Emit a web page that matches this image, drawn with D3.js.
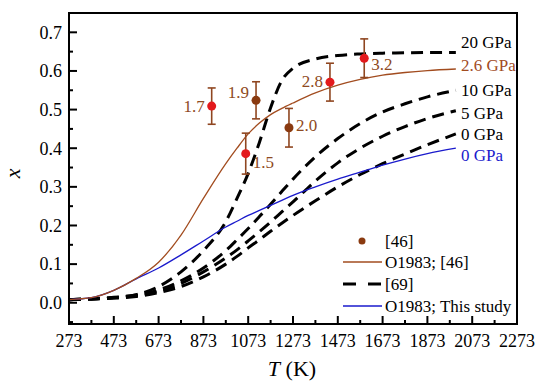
<!DOCTYPE html>
<html>
<head>
<meta charset="utf-8">
<script src="https://cdn.jsdelivr.net/npm/d3@7"></script>
<style>
  body { margin: 0; background: #fff; }
  svg text { font-family: "Liberation Serif", "Times New Roman", serif; }
</style>
</head>
<body>
<div id="chart"></div>
<script>
// temperature grid (K) shared by all curves
var tempGrid = [273, 373, 473, 573, 673, 773, 873, 973, 1023, 1073, 1123, 1173, 1223, 1273, 1373, 1473, 1573, 1673, 1773, 1873, 2000];

// O1983 model curves
var o1983Ref46 = [0.008, 0.013, 0.032, 0.063, 0.105, 0.175, 0.27, 0.36, 0.4, 0.437, 0.465, 0.487, 0.503, 0.517, 0.543, 0.563, 0.578, 0.589, 0.596, 0.601, 0.605];
var o1983ThisStudy = [0.008, 0.013, 0.032, 0.062, 0.09, 0.124, 0.16, 0.196, 0.211, 0.226, 0.239, 0.252, 0.265, 0.278, 0.3, 0.32, 0.338, 0.356, 0.372, 0.386, 0.40];

// [69] dashed curves
var ref69_20GPa = [0.008, 0.01, 0.013, 0.021, 0.042, 0.08, 0.135, 0.21, 0.27, 0.335, 0.415, 0.505, 0.575, 0.607, 0.631, 0.64, 0.644, 0.646, 0.647, 0.648, 0.648];
var ref69_10GPa = [0.008, 0.01, 0.014, 0.02, 0.033, 0.057, 0.09, 0.135, 0.163, 0.192, 0.223, 0.255, 0.288, 0.32, 0.378, 0.425, 0.464, 0.494, 0.515, 0.533, 0.55];
var ref69_5GPa = [0.008, 0.01, 0.013, 0.018, 0.03, 0.05, 0.08, 0.116, 0.137, 0.16, 0.184, 0.209, 0.235, 0.261, 0.315, 0.362, 0.4, 0.431, 0.456, 0.477, 0.497];
var ref69_0GPa = [0.008, 0.01, 0.012, 0.016, 0.026, 0.042, 0.067, 0.1, 0.12, 0.142, 0.163, 0.185, 0.206, 0.226, 0.264, 0.3, 0.332, 0.36, 0.385, 0.409, 0.437];

// [46] measured points with pressure labels (GPa)
var pointT = [910, 1062, 1108, 1255, 1438, 1591];
var pointX = [0.509, 0.386, 0.524, 0.453, 0.571, 0.633];
var pointErr = [0.047, 0.053, 0.048, 0.05, 0.049, 0.05];
var pointP = ["1.7", "1.5", "1.9", "2.0", "2.8", "3.2"];
var pointGroup = ["red", "red", "brown", "brown", "red", "red"];

// axis ticks
var xTicks = [273, 473, 673, 873, 1073, 1273, 1473, 1673, 1873, 2073, 2273];
var yTicks = [0.0, 0.1, 0.2, 0.3, 0.4, 0.5, 0.6, 0.7];

// curve end labels
var endLabels = ["20 GPa", "2.6 GPa", "10 GPa", "5 GPa", "0 GPa", "0 GPa"];
var endLabelX = [0.674, 0.614, 0.551, 0.492, 0.437, 0.382];

//---------------------------------------------------------------------------
var W = 550, H = 390;
var mLeft = 69, mRight = 517, mTop = 13, mBottom = 324;

var brown = "#a24c1f", blue = "#1a1acc";
var colors = { red: "#e3191c", brown: "#8a3a10" };
var labelColor = "#8e4a22";

var svg = d3.select("#chart").append("svg")
    .attr("width", W).attr("height", H);

var x = d3.scaleLinear().domain([273, 2273]).range([mLeft, mRight]);
var y = d3.scaleLinear().domain([-0.055, 0.75]).range([mBottom, mTop]);

var line = d3.line()
    .x(function(d) { return x(d[0]); })
    .y(function(d) { return y(d[1]); })
    .curve(d3.curveMonotoneX);

function pairs(vals) {
    return tempGrid.map(function(t, i) { return [t, vals[i]]; });
}

// dashed [69] curves
[ref69_20GPa, ref69_10GPa, ref69_5GPa, ref69_0GPa].forEach(function(s) {
    svg.append("path")
        .attr("d", line(pairs(s)))
        .attr("fill", "none")
        .attr("stroke", "#000")
        .attr("stroke-width", 3)
        .attr("stroke-dasharray", "12,7");
});

svg.append("path")
    .attr("d", line(pairs(o1983ThisStudy)))
    .attr("fill", "none").attr("stroke", blue).attr("stroke-width", 1.3);

svg.append("path")
    .attr("d", line(pairs(o1983Ref46)))
    .attr("fill", "none").attr("stroke", brown).attr("stroke-width", 1.3);

// error bars + points
var pts = svg.append("g");
pointT.forEach(function(t, i) {
    var cx = x(t), lo = y(pointX[i] - pointErr[i]), hi = y(pointX[i] + pointErr[i]);
    var eb = "#8f4620";
    pts.append("line").attr("x1", cx).attr("x2", cx).attr("y1", lo).attr("y2", hi)
        .attr("stroke", eb).attr("stroke-width", 1.6);
    [lo, hi].forEach(function(yy) {
        pts.append("line").attr("x1", cx - 4).attr("x2", cx + 4).attr("y1", yy).attr("y2", yy)
            .attr("stroke", eb).attr("stroke-width", 1.6);
    });
    pts.append("circle").attr("cx", cx).attr("cy", y(pointX[i])).attr("r", 4.5)
        .attr("fill", colors[pointGroup[i]]);
});

// pressure labels next to points: side (-1 left, 1 right) and vertical nudge
var labelLayout = [[-1, 0], [1, 8], [-1, -8], [1, -3], [-1, -1], [1, 6]];
pointT.forEach(function(t, i) {
    var side = labelLayout[i][0];
    svg.append("text")
        .attr("x", x(t) + side * 7)
        .attr("y", y(pointX[i]) + labelLayout[i][1])
        .attr("dy", "0.35em")
        .attr("text-anchor", side < 0 ? "end" : "start")
        .attr("font-size", 17)
        .attr("fill", labelColor)
        .text(pointP[i]);
});

// end labels
var endColors = ["#000", brown, "#000", "#000", "#000", blue];
endLabels.forEach(function(s, i) {
    svg.append("text")
        .attr("x", 461)
        .attr("y", y(endLabelX[i]))
        .attr("dy", "0.35em")
        .attr("font-size", 17)
        .attr("fill", endColors[i])
        .text(s);
});

// frame
svg.append("rect")
    .attr("x", mLeft).attr("y", mTop)
    .attr("width", mRight - mLeft).attr("height", mBottom - mTop)
    .attr("fill", "none").attr("stroke", "#000").attr("stroke-width", 2);

// ticks (inward)
var ax = svg.append("g").attr("stroke", "#000").attr("stroke-width", 2);
d3.range(273, 2274, 100).forEach(function(t) {
    var major = (t - 273) % 200 === 0;
    ax.append("line").attr("x1", x(t)).attr("x2", x(t))
        .attr("y1", mBottom).attr("y2", mBottom - (major ? 8 : 4));
});
d3.range(-0.05, 0.751, 0.05).forEach(function(v) {
    var major = Math.abs(Math.round(v * 10) - v * 10) < 1e-6;
    ax.append("line").attr("x1", mLeft).attr("x2", mLeft + (major ? 8 : 4))
        .attr("y1", y(v)).attr("y2", y(v));
});

svg.selectAll(".xt").data(xTicks).enter().append("text")
    .attr("x", function(d) { return x(d); })
    .attr("y", mBottom + 23)
    .attr("text-anchor", "middle")
    .attr("font-size", 18)
    .text(function(d) { return d; });

svg.selectAll(".yt").data(yTicks).enter().append("text")
    .attr("x", mLeft - 7)
    .attr("y", function(d) { return y(d); })
    .attr("dy", "0.35em")
    .attr("text-anchor", "end")
    .attr("font-size", 18)
    .text(function(d) { return d.toFixed(1); });

// axis titles
var xt = svg.append("text")
    .attr("x", (mLeft + mRight) / 2 - 1)
    .attr("y", 376)
    .attr("text-anchor", "middle")
    .attr("font-size", 22);
xt.append("tspan").attr("font-style", "italic").text("T");
xt.append("tspan").text(" (K)");

svg.append("text")
    .attr("transform", "translate(20," + y(0.335) + ") rotate(-90)")
    .attr("text-anchor", "middle")
    .attr("font-size", 22)
    .attr("font-style", "italic")
    .text("x");

// legend
var lg = svg.append("g");
var lx0 = 343, lx1 = 382, tx = 385;
lg.append("circle").attr("cx", 362).attr("cy", 241).attr("r", 3.5).attr("fill", colors.brown);
lg.append("line").attr("x1", lx0).attr("x2", lx1).attr("y1", 262).attr("y2", 262)
    .attr("stroke", brown).attr("stroke-width", 1.3);
lg.append("line").attr("x1", lx0).attr("x2", lx1).attr("y1", 284).attr("y2", 284)
    .attr("stroke", "#000").attr("stroke-width", 3).attr("stroke-dasharray", "13,12");
lg.append("line").attr("x1", lx0).attr("x2", lx1).attr("y1", 306).attr("y2", 306)
    .attr("stroke", blue).attr("stroke-width", 1.3);
["[46]", "O1983; [46]", "[69]", "O1983; This study"].forEach(function(s, i) {
    lg.append("text")
        .attr("x", tx)
        .attr("y", [241, 262, 284, 306][i])
        .attr("dy", "0.35em")
        .attr("font-size", 17)
        .text(s);
});
</script>
</body>
</html>
